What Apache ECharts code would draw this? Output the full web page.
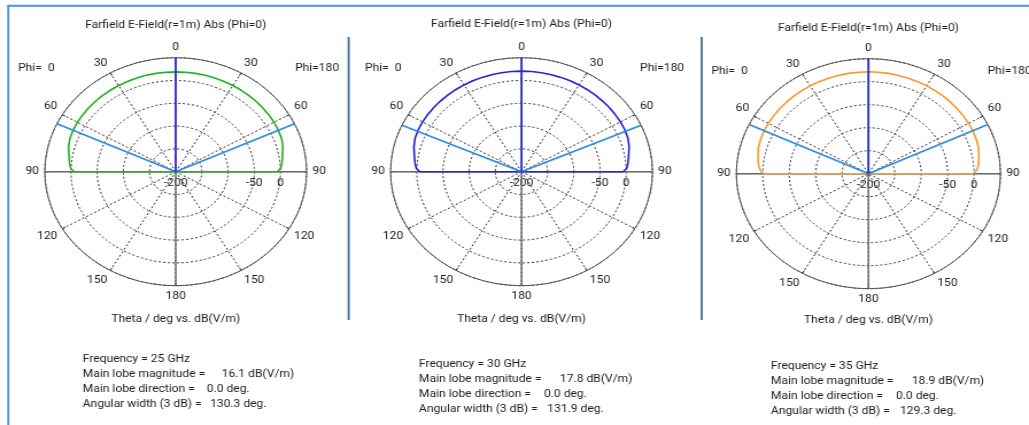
<!DOCTYPE html>
<html>
<head>
<meta charset="utf-8">
<script src="https://cdn.jsdelivr.net/npm/echarts@6.0.0/dist/echarts.min.js"></script>
<style>
body{margin:0;background:#fff}
#wrap{width:1029px;height:425px;overflow:hidden;background:#fff}
/* the source screenshot is stretched sideways, so the chart is too */
#main{width:896px;height:425px;transform:scaleX(1.1484);transform-origin:0 0}
</style>
</head>
<body>
<div id="wrap"><div id="main"></div></div>
<script>
// theta cut (deg), same for the phi=0 and phi=180 halves; gain in dB(V/m)
var theta  = [0, 5, 10, 15, 20, 25, 30, 35, 40, 45, 50, 55, 60, 65, 70, 75, 80, 82, 84, 86, 88, 89, 90, 90];
var gain25 = [19.0, 19.0, 18.9, 18.8, 18.6, 18.4, 18.2, 18.0, 17.8, 17.6, 17.4, 17.1, 16.8, 16.1, 14.9, 11.8, 7.0, 5.5, 4.0, 2.4, 0.4, -2.0, -6.0, -200];
var gain30 = [20.5, 20.5, 20.4, 20.3, 20.1, 19.9, 19.7, 19.5, 19.3, 19.0, 18.8, 18.5, 18.2, 17.6, 16.2, 12.8, 7.8, 6.2, 4.6, 3.0, 0.8, -1.8, -6.0, -200];
var gain35 = [21.5, 21.5, 21.4, 21.2, 21.0, 20.8, 20.6, 20.3, 20.1, 19.8, 19.5, 19.2, 18.9, 18.4, 17.4, 15.8, 12.2, 11.0, 9.6, 7.8, 4.5, 1.5, -1.5, -200];

var freqs = [25, 30, 35];
var mainLobe = [16.1, 17.8, 18.9];
var mainDir = [0.0, 0.0, 0.0];
var beamWidth = [130.3, 131.9, 129.3];

var rMin = -200, rMax = 50, rStep = 50;
var radiusLabels = [-200, -50, 0];

var gains = [gain25, gain30, gain35];
var curveColors = ['#24b024', '#2222d6', '#f59b2e'];
var centers = [[153.0, 171.7], [454.1, 171.7], [756.2, 173.7]];
var radii = [114, 114, 115];
var FONT = 'Roboto, "Noto Sans", sans-serif';
var TXT = '#1c1c1c';

// angle axis runs clockwise from east; label it as theta on both halves
function angleLabel(v) {
    if (v === 360) return '';
    if (v <= 90) return String(v + 90);
    if (v >= 270) return String(v - 270);
    return String(270 - v);
}

function buildCurve(g) {
    var pts = [];
    for (var i = theta.length - 1; i >= 0; i--) {
        pts.push([g[i], 270 - theta[i]]);     // phi = 0 side
    }
    for (var j = 1; j < theta.length; j++) {
        pts.push([g[j], 270 + theta[j]]);     // phi = 180 side
    }
    return pts;
}

var polar = [], angleAxis = [], radiusAxis = [], series = [], graphic = [];

for (var k = 0; k < 3; k++) {
    polar.push({center: centers[k], radius: radii[k]});
    angleAxis.push({
        polarIndex: k,
        type: 'value',
        min: 0, max: 360, interval: 30,
        startAngle: 0,
        clockwise: true,
        axisLine: {lineStyle: {color: '#555', width: 1}},
        axisTick: {show: true, inside: true, length: 3, lineStyle: {color: '#333'}},
        axisLabel: {formatter: angleLabel, margin: 5, color: TXT, fontSize: 10.5, fontFamily: FONT},
        splitLine: {lineStyle: {color: '#333', type: [2, 2], width: 1}}
    });
    radiusAxis.push({
        polarIndex: k,
        type: 'value',
        min: rMin, max: rMax, interval: rStep,
        axisLine: {show: false},
        axisTick: {show: false},
        axisLabel: {
            formatter: function (v) { return radiusLabels.indexOf(v) >= 0 ? String(v) : ''; },
            margin: -17, color: TXT, fontSize: 10.5, fontFamily: FONT
        },
        splitLine: {lineStyle: {color: '#333', type: [2, 2], width: 1}}
    });

    // solid axis lines: theta = 90 on both halves and theta = 180
    series.push({
        type: 'line', coordinateSystem: 'polar', polarIndex: k, symbol: 'none', silent: true, z: 2,
        lineStyle: {color: '#6a6a6a', width: 1.4},
        data: [[rMax, 180], [rMin, 0], [rMax, 0]]
    });
    series.push({
        type: 'line', coordinateSystem: 'polar', polarIndex: k, symbol: 'none', silent: true, z: 2,
        lineStyle: {color: '#6a6a6a', width: 1.4},
        data: [[rMin, 90], [rMax, 90]]
    });
    // the pattern itself
    series.push({
        type: 'line', coordinateSystem: 'polar', polarIndex: k, symbol: 'none', silent: true, z: 3,
        lineStyle: {color: curveColors[k], width: 1.6},
        data: buildCurve(gains[k])
    });
    // 3 dB beam width markers
    var half = beamWidth[k] / 2;
    series.push({
        type: 'line', coordinateSystem: 'polar', polarIndex: k, symbol: 'none', silent: true, z: 4,
        lineStyle: {color: '#2f8ce2', width: 1.8},
        data: [[rMax, 270 - half], [rMin, 270], [rMax, 270 + half]]
    });
    // main lobe direction
    series.push({
        type: 'line', coordinateSystem: 'polar', polarIndex: k, symbol: 'none', silent: true, z: 5,
        lineStyle: {color: '#2b2bd8', width: 1.8},
        data: [[rMin, 270 + mainDir[k]], [rMax, 270 + mainDir[k]]]
    });
}

function txt(x, y, s, align) {
    return {
        type: 'text', x: x, y: y, silent: true,
        style: {text: s, fill: TXT, fontSize: 10.5, fontFamily: FONT, align: align || 'left', verticalAlign: 'middle'}
    };
}

// page frame and separators
graphic.push({type: 'line', shape: {x1: 7.2, y1: 5.7, x2: 7.2, y2: 425}, style: {stroke: '#4a8fdc', lineWidth: 1.8}});
graphic.push({type: 'line', shape: {x1: 6.4, y1: 5.7, x2: 896, y2: 5.7}, style: {stroke: '#4a8fdc', lineWidth: 2}});
graphic.push({type: 'line', shape: {x1: 303.6, y1: 37, x2: 303.6, y2: 320}, style: {stroke: '#3f6f90', lineWidth: 1.8}});
graphic.push({type: 'line', shape: {x1: 611.0, y1: 37, x2: 611.0, y2: 320}, style: {stroke: '#3f6f90', lineWidth: 1.8}});

var titleY = [25, 24, 28];
var phiY = [68, 68, 71.7];
var phi0X = [15.7, 317.8, 619.4];
var phi180X = [256.9, 557.3, 860.0];
var thetaY = [319, 319, 320.7];
var infoX = [72.0, 364.8, 671.3];
var infoY = [359, 364, 366];
var magX = [193.0, 487.6, 793.9];
var dirX = [180.0, 473.7, 780.2];
var bwX = [182.9, 476.6, 783.7];

for (var p = 0; p < 3; p++) {
    var cx = centers[p][0];
    graphic.push(txt(cx, titleY[p], 'Farfield E-Field(r=1m) Abs (Phi=0)', 'center'));
    graphic.push(txt(phi0X[p], phiY[p], 'Phi=  0'));
    graphic.push(txt(phi180X[p], phiY[p], 'Phi=180'));
    graphic.push(txt(cx, thetaY[p], 'Theta / deg vs. dB(V/m)', 'center'));
    var y0 = infoY[p];
    graphic.push(txt(infoX[p], y0, 'Frequency = ' + freqs[p] + ' GHz'));
    graphic.push(txt(infoX[p], y0 + 15, 'Main lobe magnitude ='));
    graphic.push(txt(magX[p], y0 + 15, mainLobe[p].toFixed(1) + ' dB(V/m)'));
    graphic.push(txt(infoX[p], y0 + 30, 'Main lobe direction ='));
    graphic.push(txt(dirX[p], y0 + 30, mainDir[p].toFixed(1) + ' deg.'));
    graphic.push(txt(infoX[p], y0 + 45, 'Angular width (3 dB) ='));
    graphic.push(txt(bwX[p], y0 + 45, beamWidth[p].toFixed(1) + ' deg.'));
}

var chart = echarts.init(document.getElementById('main'), null, {renderer: 'canvas'});
chart.setOption({
    animation: false,
    backgroundColor: '#fff',
    polar: polar,
    angleAxis: angleAxis,
    radiusAxis: radiusAxis,
    series: series,
    graphic: graphic
});
</script>
</body>
</html>
